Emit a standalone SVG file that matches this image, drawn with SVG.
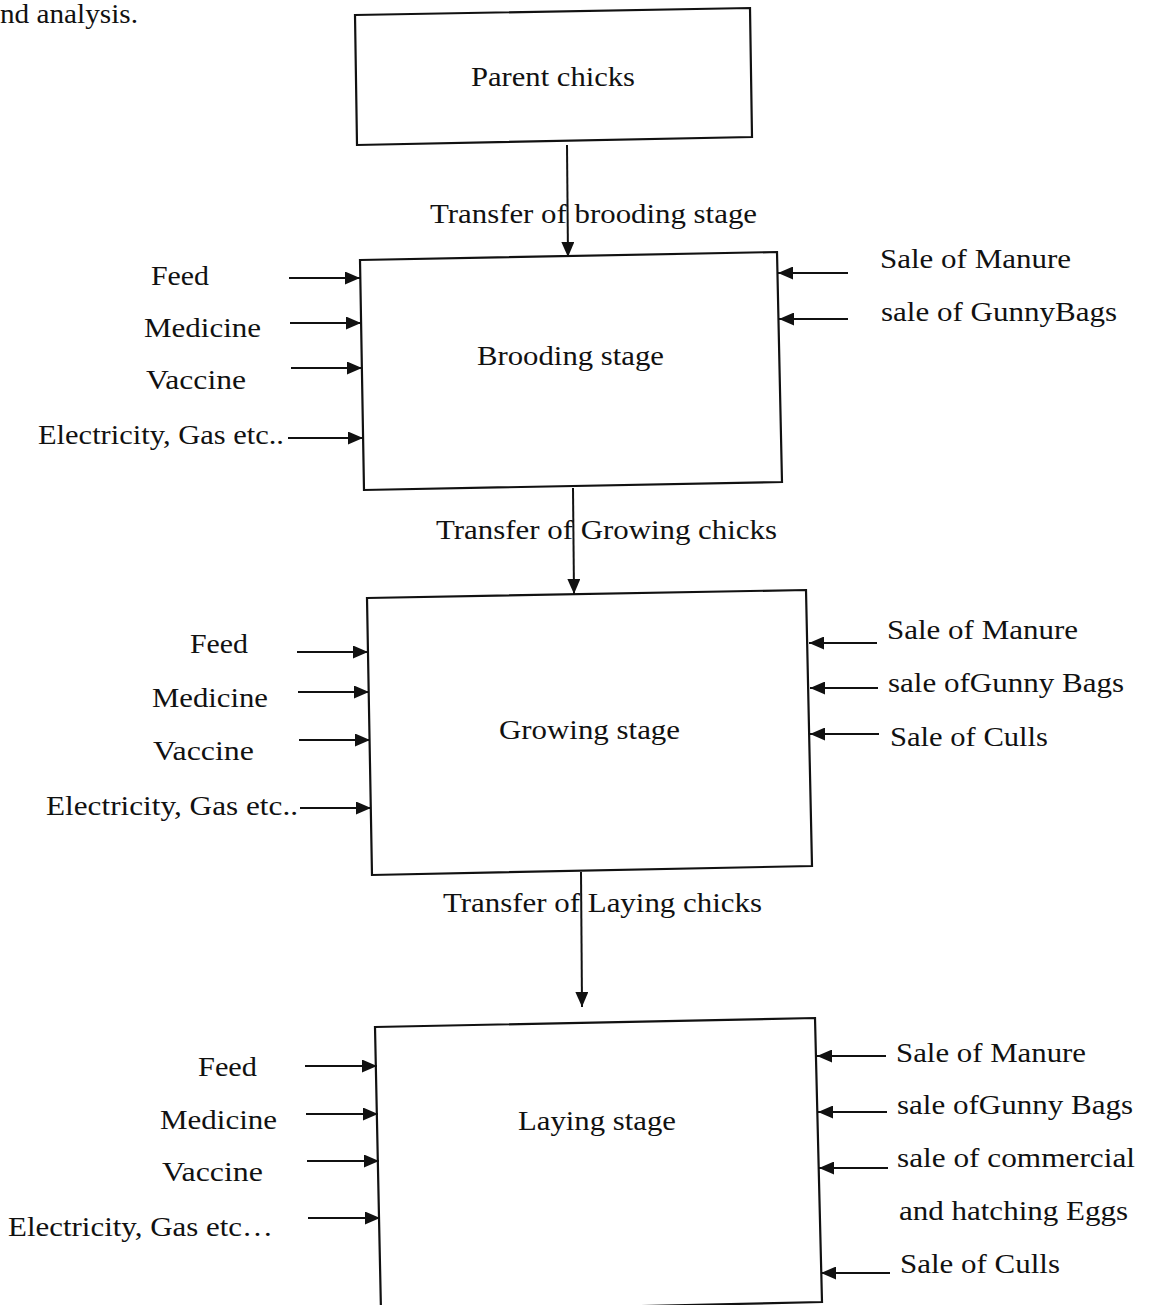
<svg xmlns="http://www.w3.org/2000/svg" width="1151" height="1305" viewBox="0 0 1151 1305">
<style>
text{font-family:"Liberation Serif","Times New Roman",serif;font-size:27px;fill:#111}
.box{fill:#fff;stroke:#111;stroke-width:2.2}
.ln{stroke:#111;stroke-width:2;fill:none;marker-end:url(#ah)}
</style>
<defs>
<marker id="ah" markerUnits="userSpaceOnUse" markerWidth="15" markerHeight="13" refX="15" refY="6.5" orient="auto">
<path d="M0,0 L15,6.5 L0,13 z" fill="#111"/>
</marker>
</defs>
<rect width="1151" height="1305" fill="#fff"/>
<text x="0" y="23" textLength="138" lengthAdjust="spacingAndGlyphs">nd analysis.</text>

<g id="parent">
<polygon class="box" points="355,15 750,8 752,137 357,145"/>
<text x="471" y="86" textLength="164" lengthAdjust="spacingAndGlyphs">Parent chicks</text>
</g>

<g id="brooding">
<polygon class="box" points="360,260 777,252 782,482 364,490"/>
<text x="477" y="365" textLength="187" lengthAdjust="spacingAndGlyphs">Brooding stage</text>
</g>

<g id="growing">
<polygon class="box" points="367,598 806,590 812,866 372,875"/>
<text x="499" y="739" textLength="181" lengthAdjust="spacingAndGlyphs">Growing stage</text>
</g>

<g id="laying">
<polygon class="box" points="375,1027 815,1018 822,1302 381,1312"/>
<text x="518" y="1130" textLength="158" lengthAdjust="spacingAndGlyphs">Laying stage</text>
</g>

<g id="connectors">
<line class="ln" x1="567" y1="145" x2="568" y2="257"/>
<line class="ln" x1="573" y1="488" x2="574" y2="594"/>
<line class="ln" x1="581" y1="872" x2="582" y2="1007"/>
<line class="ln" x1="289" y1="278" x2="360" y2="278"/>
<line class="ln" x1="290" y1="323" x2="361" y2="323"/>
<line class="ln" x1="291" y1="368" x2="362" y2="368"/>
<line class="ln" x1="288" y1="438" x2="363" y2="438"/>
<line class="ln" x1="848" y1="273" x2="778" y2="273"/>
<line class="ln" x1="848" y1="319" x2="779" y2="319"/>
<line class="ln" x1="297" y1="652" x2="368" y2="652"/>
<line class="ln" x1="298" y1="692" x2="369" y2="692"/>
<line class="ln" x1="299" y1="740" x2="370" y2="740"/>
<line class="ln" x1="300" y1="808" x2="371" y2="808"/>
<line class="ln" x1="877" y1="643" x2="809" y2="643"/>
<line class="ln" x1="878" y1="688" x2="810" y2="688"/>
<line class="ln" x1="879" y1="734" x2="810" y2="734"/>
<line class="ln" x1="305" y1="1066" x2="377" y2="1066"/>
<line class="ln" x1="306" y1="1114" x2="378" y2="1114"/>
<line class="ln" x1="307" y1="1161" x2="379" y2="1161"/>
<line class="ln" x1="308" y1="1218" x2="380" y2="1218"/>
<line class="ln" x1="886" y1="1056" x2="817" y2="1056"/>
<line class="ln" x1="887" y1="1112" x2="818" y2="1112"/>
<line class="ln" x1="888" y1="1168" x2="819" y2="1168"/>
<line class="ln" x1="890" y1="1273" x2="821" y2="1273"/>
</g>

<g id="labels">
<text x="430" y="223" textLength="327" lengthAdjust="spacingAndGlyphs">Transfer of brooding stage</text>
<text x="436" y="539" textLength="341" lengthAdjust="spacingAndGlyphs">Transfer of Growing chicks</text>
<text x="443" y="912" textLength="319" lengthAdjust="spacingAndGlyphs">Transfer of Laying chicks</text>

<text x="151" y="285" textLength="58" lengthAdjust="spacingAndGlyphs">Feed</text>
<text x="144" y="337" textLength="117" lengthAdjust="spacingAndGlyphs">Medicine</text>
<text x="146" y="389" textLength="100" lengthAdjust="spacingAndGlyphs">Vaccine</text>
<text x="38" y="444" textLength="246" lengthAdjust="spacingAndGlyphs">Electricity, Gas etc..</text>
<text x="880" y="268" textLength="191" lengthAdjust="spacingAndGlyphs">Sale of Manure</text>
<text x="881" y="321" textLength="236" lengthAdjust="spacingAndGlyphs">sale of GunnyBags</text>

<text x="190" y="653" textLength="58" lengthAdjust="spacingAndGlyphs">Feed</text>
<text x="152" y="707" textLength="116" lengthAdjust="spacingAndGlyphs">Medicine</text>
<text x="153" y="760" textLength="101" lengthAdjust="spacingAndGlyphs">Vaccine</text>
<text x="46" y="815" textLength="252" lengthAdjust="spacingAndGlyphs">Electricity, Gas etc..</text>
<text x="887" y="639" textLength="191" lengthAdjust="spacingAndGlyphs">Sale of Manure</text>
<text x="888" y="692" textLength="236" lengthAdjust="spacingAndGlyphs">sale ofGunny Bags</text>
<text x="890" y="746" textLength="158" lengthAdjust="spacingAndGlyphs">Sale of Culls</text>

<text x="198" y="1076" textLength="59" lengthAdjust="spacingAndGlyphs">Feed</text>
<text x="160" y="1129" textLength="117" lengthAdjust="spacingAndGlyphs">Medicine</text>
<text x="162" y="1181" textLength="101" lengthAdjust="spacingAndGlyphs">Vaccine</text>
<text x="8" y="1236" textLength="265" lengthAdjust="spacingAndGlyphs">Electricity, Gas etc…</text>
<text x="896" y="1062" textLength="190" lengthAdjust="spacingAndGlyphs">Sale of Manure</text>
<text x="897" y="1114" textLength="236" lengthAdjust="spacingAndGlyphs">sale ofGunny Bags</text>
<text x="897" y="1167" textLength="238" lengthAdjust="spacingAndGlyphs">sale of commercial</text>
<text x="899" y="1220" textLength="229" lengthAdjust="spacingAndGlyphs">and hatching Eggs</text>
<text x="900" y="1273" textLength="160" lengthAdjust="spacingAndGlyphs">Sale of Culls</text>
</g>
</svg>
